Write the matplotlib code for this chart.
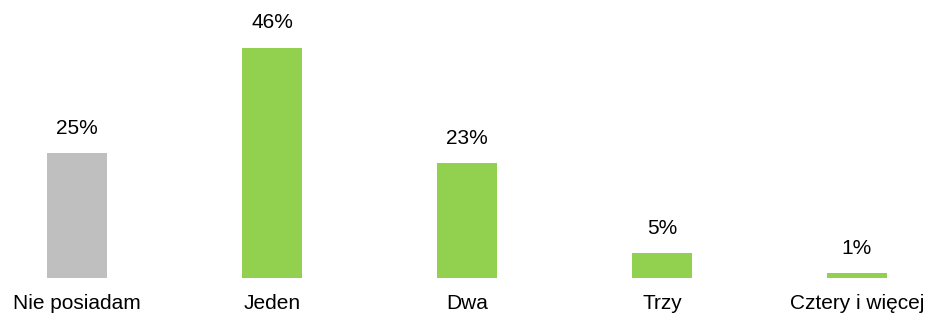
import matplotlib.pyplot as plt

kategorie = ["Nie posiadam", "Jeden", "Dwa", "Trzy", "Cztery i więcej"]
wartosci = [25, 46, 23, 5, 1]
kolory = ["#BFBFBF", "#92D050", "#92D050", "#92D050", "#92D050"]

plt.rcParams['font.family'] = ['Liberation Sans', 'DejaVu Sans']

fig = plt.figure(figsize=(9.27, 3.13), dpi=100)
ax = fig.add_axes([0, 35.5 / 313, 1, 250 / 313])

x = list(range(len(kategorie)))
ax.bar(x, wartosci, width=0.31, color=kolory)
for xi, v in zip(x, wartosci):
    ax.text(xi, v + 3, f"{v}%", ha="center", va="bottom", fontsize=15)

ax.set_xlim(-0.395, 4.359)
ax.set_ylim(0, 50)
ax.set_xticks(x)
ax.set_xticklabels(kategorie, fontsize=15)
ax.tick_params(axis="x", length=0, pad=12)
ax.set_yticks([])
for s in ax.spines.values():
    s.set_visible(False)

fig.savefig("out.png", dpi=100)
